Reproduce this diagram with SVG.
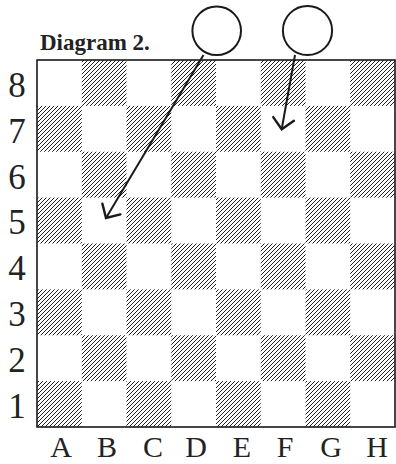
<svg xmlns="http://www.w3.org/2000/svg" width="396" height="464" viewBox="0 0 396 464">
<defs>
<pattern id="hatch" patternUnits="userSpaceOnUse" width="4" height="4">
<path d="M-1,1 L1,-1 M0,4 L4,0 M3,5 L5,3" stroke="#1e1e1e" stroke-width="1"/>
</pattern>
<marker id="arrow" markerUnits="userSpaceOnUse" markerWidth="30" markerHeight="30" viewBox="-15 -15 30 30" refX="0" refY="0" orient="auto">
<path d="M-10.5,-10.5 L0,0 L-10.5,10.5" fill="none" stroke="#1a1a1a" stroke-width="2.4" stroke-linejoin="miter" stroke-linecap="round"/>
</marker>
<style>
.dk{fill:url(#hatch)}
.rank{font-family:"Liberation Serif","Times New Roman",serif;font-size:35px;fill:#222;text-anchor:middle}
.file{font-family:"Liberation Serif","Times New Roman",serif;font-size:30px;fill:#222;text-anchor:middle}
.title{font-family:"Liberation Serif","Times New Roman",serif;font-size:23px;font-weight:bold;fill:#222}
.circ{fill:#fff;stroke:#1a1a1a;stroke-width:2}
.conn{fill:none;stroke:#1a1a1a;stroke-width:2;marker-end:url(#arrow)}
</style>
</defs>
<rect width="396" height="464" fill="#fff"/>
<text class="title" x="40" y="50">Diagram 2.</text>
<g id="board">
<g id="squares">
<rect class="dk" x="81.75" y="60" width="44.75" height="45.875"/>
<rect class="dk" x="171.25" y="60" width="44.75" height="45.875"/>
<rect class="dk" x="260.75" y="60" width="44.75" height="45.875"/>
<rect class="dk" x="350.25" y="60" width="44.75" height="45.875"/>
<rect class="dk" x="37" y="105.875" width="44.75" height="45.875"/>
<rect class="dk" x="126.5" y="105.875" width="44.75" height="45.875"/>
<rect class="dk" x="216" y="105.875" width="44.75" height="45.875"/>
<rect class="dk" x="305.5" y="105.875" width="44.75" height="45.875"/>
<rect class="dk" x="81.75" y="151.75" width="44.75" height="45.875"/>
<rect class="dk" x="171.25" y="151.75" width="44.75" height="45.875"/>
<rect class="dk" x="260.75" y="151.75" width="44.75" height="45.875"/>
<rect class="dk" x="350.25" y="151.75" width="44.75" height="45.875"/>
<rect class="dk" x="37" y="197.625" width="44.75" height="45.875"/>
<rect class="dk" x="126.5" y="197.625" width="44.75" height="45.875"/>
<rect class="dk" x="216" y="197.625" width="44.75" height="45.875"/>
<rect class="dk" x="305.5" y="197.625" width="44.75" height="45.875"/>
<rect class="dk" x="81.75" y="243.5" width="44.75" height="45.875"/>
<rect class="dk" x="171.25" y="243.5" width="44.75" height="45.875"/>
<rect class="dk" x="260.75" y="243.5" width="44.75" height="45.875"/>
<rect class="dk" x="350.25" y="243.5" width="44.75" height="45.875"/>
<rect class="dk" x="37" y="289.375" width="44.75" height="45.875"/>
<rect class="dk" x="126.5" y="289.375" width="44.75" height="45.875"/>
<rect class="dk" x="216" y="289.375" width="44.75" height="45.875"/>
<rect class="dk" x="305.5" y="289.375" width="44.75" height="45.875"/>
<rect class="dk" x="81.75" y="335.25" width="44.75" height="45.875"/>
<rect class="dk" x="171.25" y="335.25" width="44.75" height="45.875"/>
<rect class="dk" x="260.75" y="335.25" width="44.75" height="45.875"/>
<rect class="dk" x="350.25" y="335.25" width="44.75" height="45.875"/>
<rect class="dk" x="37" y="381.125" width="44.75" height="45.875"/>
<rect class="dk" x="126.5" y="381.125" width="44.75" height="45.875"/>
<rect class="dk" x="216" y="381.125" width="44.75" height="45.875"/>
<rect class="dk" x="305.5" y="381.125" width="44.75" height="45.875"/>
</g>
<rect x="37" y="60" width="358" height="367" fill="none" stroke="#1a1a1a" stroke-width="1.6"/>
</g>
<g id="ranks">
<text class="rank" x="17" y="96.7">8</text>
<text class="rank" x="17" y="142.6">7</text>
<text class="rank" x="17" y="188.5">6</text>
<text class="rank" x="17" y="234.4">5</text>
<text class="rank" x="17" y="280.2">4</text>
<text class="rank" x="17" y="326.1">3</text>
<text class="rank" x="17" y="372">2</text>
<text class="rank" x="17" y="417.9">1</text>
</g>
<g id="files">
<text class="file" x="61" y="457">A</text>
<text class="file" x="107" y="457">B</text>
<text class="file" x="153" y="457">C</text>
<text class="file" x="196" y="457">D</text>
<text class="file" x="242" y="457">E</text>
<text class="file" x="285" y="457">F</text>
<text class="file" x="331" y="457">G</text>
<text class="file" x="377" y="457">H</text>
</g>
<g id="piece1"><circle class="circ" cx="216.7" cy="30.8" r="24.3"/></g>
<g id="piece2"><circle class="circ" cx="307.5" cy="30.5" r="24.6"/></g>
<g id="connectors">
<line class="conn" x1="203.5" y1="55" x2="106" y2="218"/>
<line class="conn" x1="295" y1="55" x2="281.7" y2="129.3"/>
</g>
</svg>
